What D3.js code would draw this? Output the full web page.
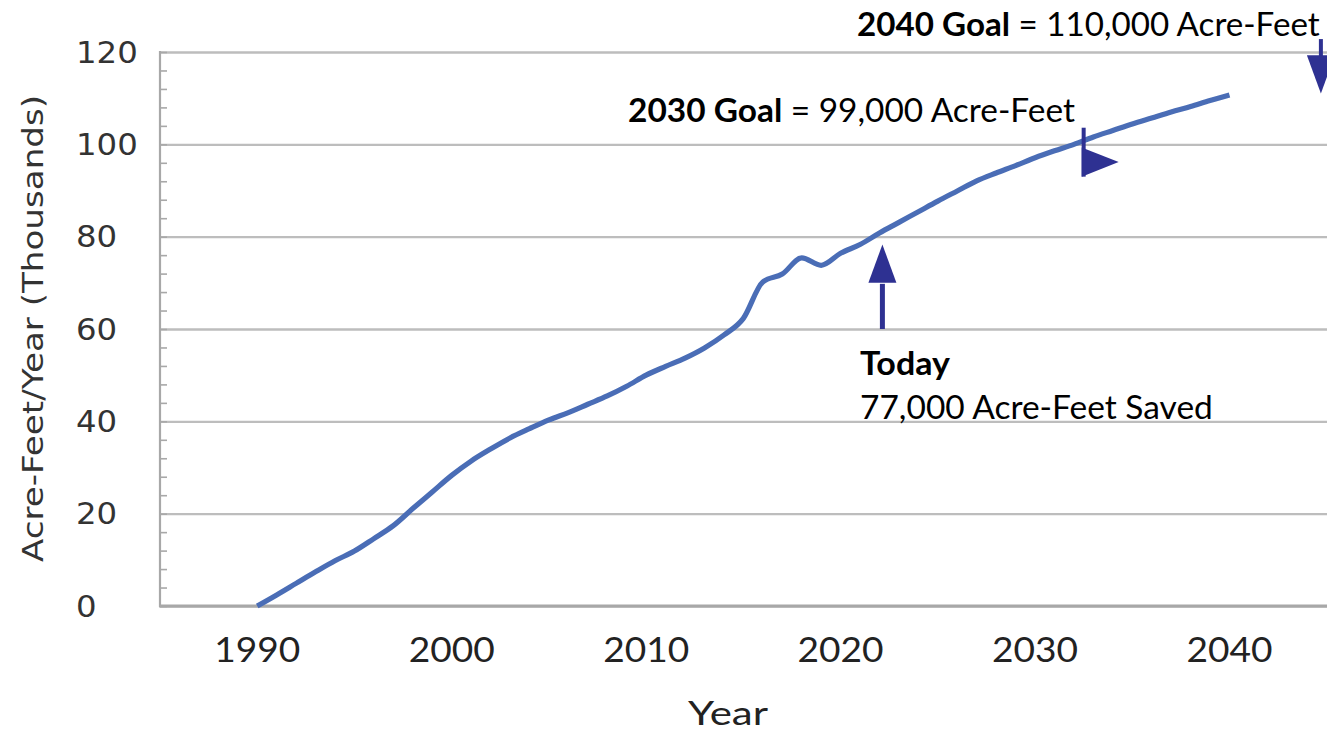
<!DOCTYPE html>
<html>
<head>
<meta charset="utf-8">
<script src="https://cdn.jsdelivr.net/npm/d3@7"></script>
<style>
  html, body { margin: 0; padding: 0; background: #ffffff; }
  svg { display: block; }
</style>
</head>
<body>
<svg id="chart" width="1327" height="731"></svg>
<script>
// ---------------- data ----------------
const years = d3.range(1990, 2041);
const savedThousands = [
  0, 2.4, 4.9, 7.4, 9.8, 11.9, 14.6, 17.4, 21.1, 24.7,
  28.3, 31.4, 34.0, 36.4, 38.4, 40.3, 41.9, 43.7, 45.5, 47.6,
  50.0, 51.9, 53.7, 55.9, 58.7, 62.3, 70.2, 71.9, 75.4, 73.8,
  76.4, 78.3, 80.8, 83.1, 85.4, 87.7, 89.9, 92.1, 93.8, 95.4,
  97.1, 98.6, 100.0, 101.6, 103.0, 104.4, 105.7, 107.0, 108.2, 109.5,
  110.7
];
const xTickYears = [1990, 2000, 2010, 2020, 2030, 2040];
const yTickValues = [0, 20, 40, 60, 80, 100, 120];
const yMinorValues = d3.range(0, 121, 4);

// annotation anchors (year, value in thousands)
const todayArrow = { year: 2022.15, tip: 78.3, headBase: 70.0, tail: 60.0 };
const goal2030Arrow = { year: 2032.5, top: 103.6, bottom: 93.0, tipYear: 2034.3, tipValue: 96.2, triTop: 99.3 };
const goal2040Arrow = { year: 2044.7, top: 122.8, headBase: 119.3, tip: 111.0 };

// ---------------- layout ----------------
const svg = d3.select("#chart");
const W = 1327, H = 731;
const x = d3.scaleLinear().domain([1985, 2040]).range([160, 1229.5]);
const y = d3.scaleLinear().domain([0, 120]).range([606, 52]);
const plotLeft = x(1985), plotRight = W;

const gridColor = "#bdbdbd";
const axisColor = "#a8a8a8";
const lineColor = "#4a6db6";
const arrowColor = "#2e3192";
const labelColor = "#333333";

// stretch text horizontally so it fills a target width
function fitText(sel, xPos, yPos, targetWidth, sy) {
  const node = sel.node();
  const w = node.getComputedTextLength();
  const s = w > 0 ? targetWidth / w : 1;
  sel.attr("x", 0).attr("y", 0)
     .attr("transform", `translate(${xPos},${yPos}) scale(${s},${sy || 1})`);
}

// gridlines
const yGrid = d3.axisLeft(y).tickValues(yTickValues).tickSize(-(plotRight - plotLeft)).tickFormat("");
svg.append("g")
  .attr("transform", `translate(${plotLeft},0)`)
  .call(yGrid)
  .call(g => g.select(".domain").remove())
  .call(g => g.selectAll(".tick line").attr("stroke", gridColor).attr("stroke-width", 2.4));

// minor ticks (inside, on left axis)
const yMinor = d3.axisRight(y).tickValues(yMinorValues).tickSize(7).tickFormat("");
svg.append("g")
  .attr("transform", `translate(${plotLeft},0)`)
  .call(yMinor)
  .call(g => g.select(".domain").remove())
  .call(g => g.selectAll(".tick line").attr("stroke", axisColor).attr("stroke-width", 1.6));

// left axis line
svg.append("line")
  .attr("x1", plotLeft).attr("x2", plotLeft)
  .attr("y1", y(120) - 1).attr("y2", y(0) + 1)
  .attr("stroke", axisColor).attr("stroke-width", 2.2);

// bottom axis line
svg.append("line")
  .attr("x1", plotLeft - 1).attr("x2", plotRight)
  .attr("y1", y(0)).attr("y2", y(0))
  .attr("stroke", axisColor).attr("stroke-width", 3);

// y tick labels (left-aligned, wide sans)
const yLab = svg.append("g");
yTickValues.forEach(v => {
  const t = yLab.append("text")
    .text(d3.format("d")(v))
    .attr("font-family", "DejaVu Sans, Verdana, sans-serif")
    .attr("font-size", 28)
    .attr("fill", labelColor)
    .attr("text-anchor", "start");
  const digits = String(v).length;
  fitText(t, 76, y(v) + 10.5, digits * 20.6, 1.05);
});

// x tick labels
const xLab = svg.append("g");
xTickYears.forEach(yr => {
  const t = xLab.append("text")
    .text(yr)
    .attr("font-family", "Lato, 'Open Sans', sans-serif")
    .attr("font-size", 33)
    .attr("fill", "#222")
    .attr("text-anchor", "middle");
  fitText(t, x(yr), 662, 86, 1.04);
});

// axis titles
const xTitle = svg.append("text")
  .text("Year")
  .attr("font-family", "Lato, 'Open Sans', sans-serif")
  .attr("font-size", 32)
  .attr("fill", "#222")
  .attr("text-anchor", "middle");
fitText(xTitle, 728, 725, 80);

const yTitle = svg.append("text")
  .text("Acre-Feet/Year (Thousands)")
  .attr("font-family", "DejaVu Sans, Verdana, sans-serif")
  .attr("font-size", 27)
  .attr("fill", labelColor)
  .attr("text-anchor", "middle");
{
  const w = yTitle.node().getComputedTextLength();
  yTitle.attr("x", 0).attr("y", 0)
    .attr("transform", `translate(43,${(95 + 562) / 2}) rotate(-90) scale(${467 / w},1.05)`);
}

// the data line
const lineGen = d3.line()
  .x((d, i) => x(years[i]))
  .y(d => y(d))
  .curve(d3.curveMonotoneX);
svg.append("path")
  .datum(savedThousands)
  .attr("d", lineGen)
  .attr("fill", "none")
  .attr("stroke", lineColor)
  .attr("stroke-width", 5.2)
  .attr("stroke-linejoin", "round")
  .attr("stroke-linecap", "butt");

// ---------------- annotations ----------------
const ann = svg.append("g");

// Today arrow (upward)
{
  const ax = x(todayArrow.year);
  ann.append("line")
    .attr("x1", ax).attr("x2", ax)
    .attr("y1", y(todayArrow.tail)).attr("y2", y(todayArrow.headBase) + 1)
    .attr("stroke", arrowColor).attr("stroke-width", 5);
  ann.append("path")
    .attr("d", `M${ax},${y(todayArrow.tip)} L${ax - 14},${y(todayArrow.headBase)} L${ax + 14},${y(todayArrow.headBase)} Z`)
    .attr("fill", arrowColor);
}

// 2030 goal marker (vertical stroke + right-pointing head)
{
  const ax = x(goal2030Arrow.year);
  ann.append("line")
    .attr("x1", ax).attr("x2", ax)
    .attr("y1", y(goal2030Arrow.top)).attr("y2", y(goal2030Arrow.bottom))
    .attr("stroke", arrowColor).attr("stroke-width", 4);
  ann.append("path")
    .attr("d", `M${ax - 2},${y(goal2030Arrow.triTop)} L${x(goal2030Arrow.tipYear)},${y(goal2030Arrow.tipValue)} L${ax - 2},${y(goal2030Arrow.bottom)} Z`)
    .attr("fill", arrowColor);
}

// 2040 goal arrow (downward, clipped at right edge)
{
  const ax = x(goal2040Arrow.year);
  ann.append("line")
    .attr("x1", ax).attr("x2", ax)
    .attr("y1", y(goal2040Arrow.top)).attr("y2", y(goal2040Arrow.headBase) + 1)
    .attr("stroke", arrowColor).attr("stroke-width", 4);
  ann.append("path")
    .attr("d", `M${ax - 14},${y(goal2040Arrow.headBase)} L${ax + 14},${y(goal2040Arrow.headBase)} L${ax},${y(goal2040Arrow.tip)} Z`)
    .attr("fill", arrowColor);
}

function richLabel(parts, left, baseline, width) {
  const t = ann.append("text")
    .attr("font-family", "Lato, 'Open Sans', sans-serif")
    .attr("font-size", 32)
    .attr("fill", "#000")
    .attr("text-anchor", "start");
  parts.forEach(p => {
    t.append("tspan").text(p.text).attr("font-weight", p.bold ? 700 : 400);
  });
  fitText(t, left, baseline, width);
}

richLabel([{ text: "2040 Goal", bold: true }, { text: " = 110,000 Acre-Feet", bold: false }], 857, 36, 463);
richLabel([{ text: "2030 Goal", bold: true }, { text: " = 99,000 Acre-Feet", bold: false }], 628, 122, 447);
richLabel([{ text: "Today", bold: true }], 860, 375, 90);
richLabel([{ text: "77,000 Acre-Feet Saved", bold: false }], 860, 419, 353);
</script>
</body>
</html>
